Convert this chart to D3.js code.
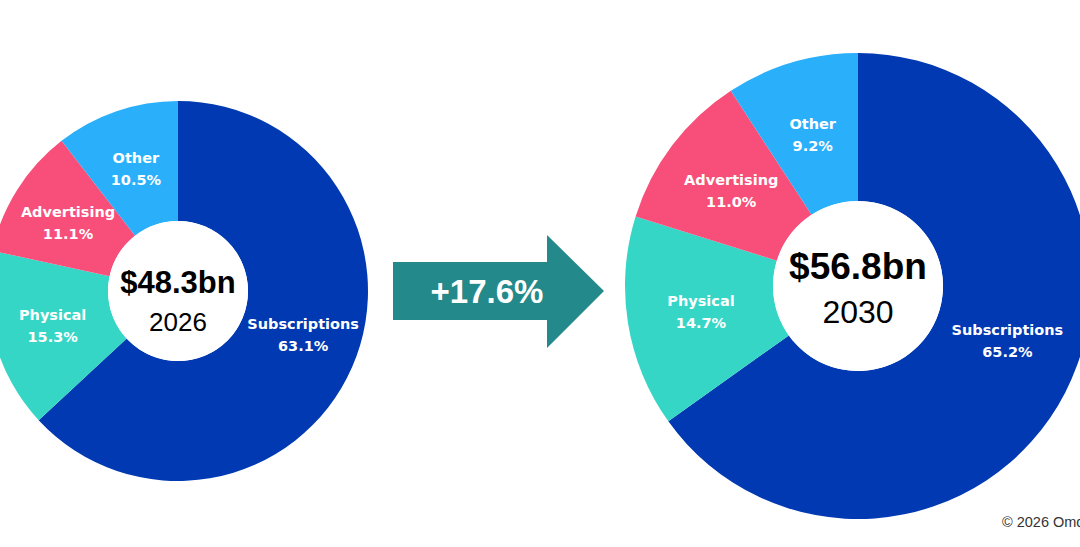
<!DOCTYPE html>
<html>
<head>
<meta charset="utf-8">
<script src="https://cdn.jsdelivr.net/npm/d3@7"></script>
<style>
    html, body { margin: 0; padding: 0; background: #fff; overflow: hidden; }
    svg { display: block; }
</style>
</head>
<body>
<svg width="1080" height="547"></svg>
<script>
const categories = ['Subscriptions', 'Physical', 'Advertising', 'Other'];
const share2026 = [63.1, 15.3, 11.1, 10.5];
const share2030 = [65.2, 14.7, 11.0, 9.2];
const totals = ['$48.3bn', '$56.8bn'];
const years = ['2026', '2030'];
const growthLabel = '+17.6%';
const colors = ['#0039b1', '#36d6c6', '#f74f7a', '#2aaffb'];

const svg = d3.select('svg');
const color = d3.scaleOrdinal().domain(categories).range(colors);
const pie = d3.pie().sort(null).value((d) => d.value);

const drawDonut = (_values, _opt) => {
    const rows = categories.map((_c, i) => {
        return { name: _c, value: _values[i] };
    });
    const arc = d3.arc().innerRadius(_opt.inner).outerRadius(_opt.outer);
    const g = svg
        .append('g')
        .attr('transform', `translate(${_opt.cx},${_opt.cy})`);

    const slices = pie(rows);
    g.selectAll('path')
        .data(slices)
        .join('path')
        .attr('d', arc)
        .attr('fill', (d) => color(d.data.name));

    // white hole in the middle
    g.append('circle').attr('r', _opt.inner).attr('fill', '#fff');

    // the big slice's label sits a bit higher than its centroid
    const labelPos = (d, i) => {
        const [x, y] = arc.centroid(d);
        return i === 0 ? [x + _opt.bigDx, y + _opt.bigDy] : [x, y];
    };
    const labels = g
        .selectAll('g.lbl')
        .data(slices)
        .join('g')
        .attr('class', 'lbl')
        .attr('transform', (d, i) => `translate(${labelPos(d, i)})`)
        .attr('fill', '#fff')
        .attr('font-family', 'DejaVu Sans, sans-serif')
        .attr('font-weight', 'bold')
        .attr('font-size', 14.5)
        .attr('text-anchor', 'middle');
    labels.append('text').attr('y', -5).text((d) => d.data.name);
    labels
        .append('text')
        .attr('y', 17)
        .text((d) => d.data.value.toFixed(1) + '%');

    g.append('text')
        .attr('y', _opt.totalY)
        .attr('text-anchor', 'middle')
        .attr('font-family', 'Liberation Sans, Arial, sans-serif')
        .attr('font-weight', 'bold')
        .attr('font-size', _opt.totalSize)
        .attr('fill', '#000')
        .text(_opt.total);
    g.append('text')
        .attr('y', _opt.yearY)
        .attr('text-anchor', 'middle')
        .attr('font-family', 'Liberation Sans, Arial, sans-serif')
        .attr('font-size', _opt.yearSize)
        .attr('fill', '#000')
        .text(_opt.year);
};

drawDonut(share2026, {
    cx: 178, cy: 291, inner: 70, outer: 190, bigDx: 6, bigDy: -9,
    total: totals[0], totalSize: 31, totalY: 2,
    year: years[0], yearSize: 26, yearY: 40
});
drawDonut(share2030, {
    cx: 858, cy: 286, inner: 85, outer: 233, bigDx: 8, bigDy: -19,
    total: totals[1], totalSize: 37, totalY: -7,
    year: years[1], yearSize: 32, yearY: 37
});

// growth arrow
const arrow = d3.path();
arrow.moveTo(393, 262);
arrow.lineTo(547, 262);
arrow.lineTo(547, 235);
arrow.lineTo(604, 291);
arrow.lineTo(547, 348);
arrow.lineTo(547, 320);
arrow.lineTo(393, 320);
arrow.closePath();
svg.append('path').attr('d', arrow.toString()).attr('fill', '#23898a');
svg.append('text')
    .attr('x', 487)
    .attr('y', 303)
    .attr('text-anchor', 'middle')
    .attr('font-family', 'Liberation Sans, Arial, sans-serif')
    .attr('font-weight', 'bold')
    .attr('font-size', 33)
    .attr('fill', '#fff')
    .text(growthLabel);

svg.append('text')
    .attr('x', 1002)
    .attr('y', 527)
    .attr('font-family', 'Liberation Sans, Arial, sans-serif')
    .attr('font-size', 14.5)
    .attr('fill', '#333')
    .text('© 2026 Omdia');
</script>
</body>
</html>
